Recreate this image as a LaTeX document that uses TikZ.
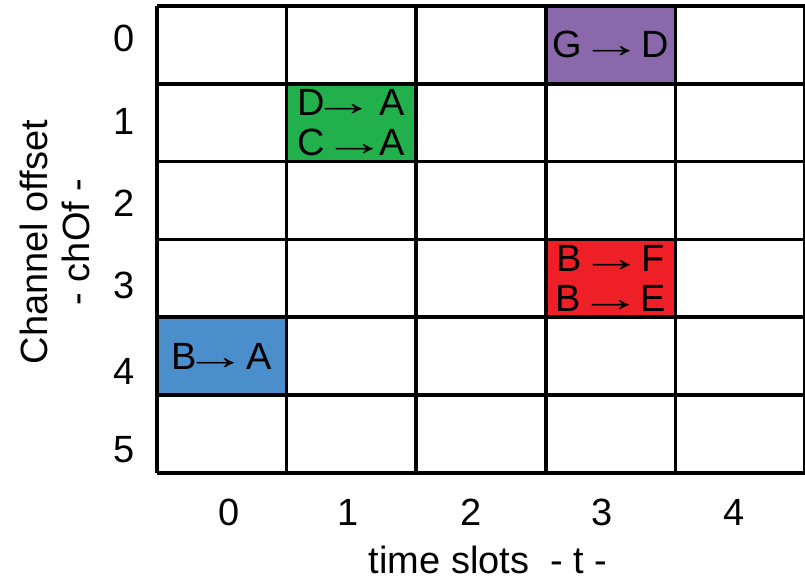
\documentclass[tikz,border=0pt]{standalone}
\usepackage{fontspec}
\setmainfont{Liberation Sans}
\definecolor{mypurple}{HTML}{8B67AC}
\definecolor{mygreen}{HTML}{21B04B}
\definecolor{myred}{HTML}{EE1F26}
\definecolor{myblue}{HTML}{4A8FCC}
\usetikzlibrary{positioning}
\newcommand{\msgarrow}{\makebox[1em][c]{\scalebox{1.65}[1]{→}}}
\tikzset{
	cellnode/.style={
			rectangle,
			minimum width=3.24cm,
			minimum height=1.945cm,
			inner sep=0pt,
			align=center,
			font={\fontsize{27}{28.5}\selectfont}
		},
	purplecell/.style={
			cellnode,
			fill=mypurple
		},
	greencell/.style={
			cellnode,
			fill=mygreen
		},
	redcell/.style={
			cellnode,
			fill=myred
		},
	bluecell/.style={
			cellnode,
			fill=myblue
		},
	gridline/.style={
			draw=black,
			line width=2.6pt
		},
	axisnum/.style={
			inner sep=0pt,
			font={\fontsize{27}{28.5}\selectfont}
		},
	axislabel/.style={
			inner sep=0pt,
			font={\fontsize{27}{28.5}\selectfont}
		}
}

\begin{document}
\begin{tikzpicture}[x=3.24cm, y=1.945cm]
\useasboundingbox (-1.2114,0.0771) rectangle (5,-7.404);

\node[purplecell] (tGD) at (3.5,-0.5) {G \msgarrow\ D};
\node[greencell] (tDA) at (1.5,-1.5) {D\msgarrow\hspace{0.45em}A\\C \msgarrow\hspace{0.17em}A};
\node[redcell] (tBF) at (3.5,-3.5) {B \msgarrow\ F\\B \msgarrow\ E};
\node[bluecell] (tBA) at (0.5,-4.5) {B\msgarrow\hspace{0.3em}A};

\draw[gridline] (0,0) grid[xstep=3.24cm, ystep=1.945cm] (5,-6);

% channel offsets and time slots
\foreach \r/\yy in {0/0.411, 1/1.478, 2/2.532, 3/3.586, 4/4.692, 5/5.707}
  \node[axisnum] (row\r) at (-0.2546,-\yy) {\r};
\foreach \c/\xx in {0/0.556, 1/1.475, 2/2.425, 3/3.436, 4/4.456}
  \node[axisnum] (col\c) at (\xx,-6.504) {\c};

\node[axislabel, anchor=base] (tSlots) at (2.554,-7.288) {time slots\ \ - t -};
\node[axislabel, rotate=90] (chOffset) at (-0.949,-3.033) {Channel offset};
\node[axislabel, rotate=90] (chOf) at (-0.625,-3.033) {- chOf -};

\end{tikzpicture}
\end{document}
